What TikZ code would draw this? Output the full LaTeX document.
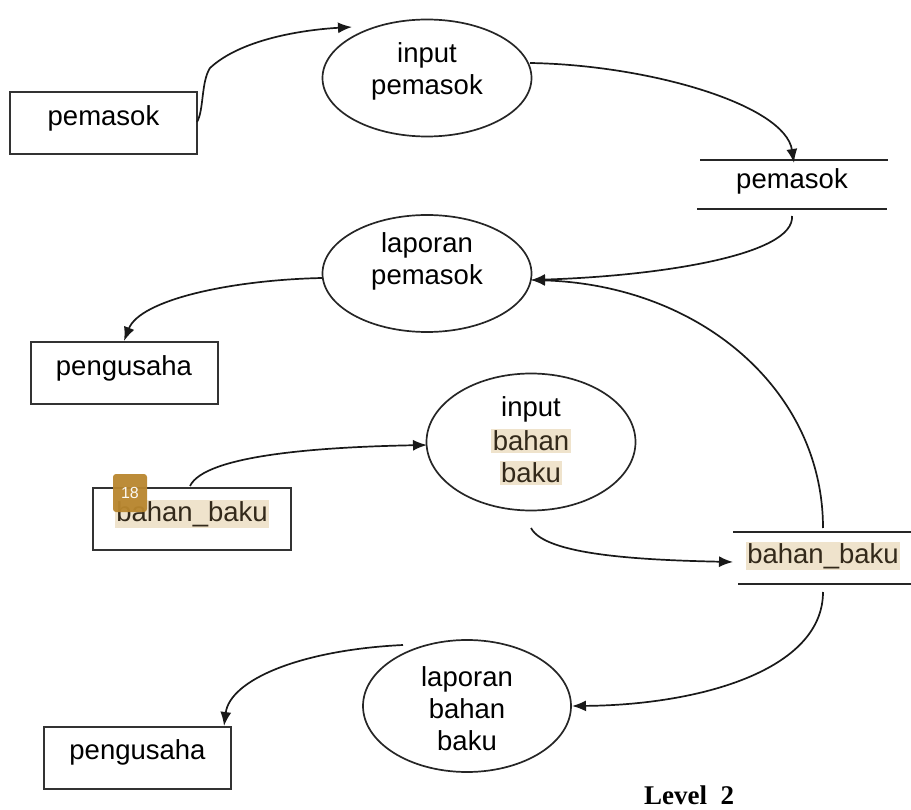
\documentclass[tikz,border=0pt]{standalone}
\usepackage{fontspec}
\setmainfont{Liberation Sans}
\newfontfamily\serifbold{Liberation Serif}
\usetikzlibrary{shapes.geometric,arrows.meta}
\definecolor{hl}{HTML}{EFE3CC}
\definecolor{hltext}{HTML}{33291A}
\definecolor{badge}{HTML}{B8862E}
\begin{document}
\begin{tikzpicture}[x=1pt,y=-1pt,
  font=\fontsize{27.5}{32}\selectfont,
  every node/.style={align=center},
  entity/.style={draw=black!80,line width=2pt,minimum width=187pt,minimum height=62pt,inner sep=0pt},
  proc/.style={draw=black!85,line width=1.7pt,ellipse,minimum width=209pt,minimum height=117pt,inner sep=0pt},
  storeline/.style={draw=black!85,line width=1.7pt},
  flow/.style={draw=black!90,line width=1.7pt,-{Latex[length=14pt,width=11pt]}},
  hlbox/.style={fill=hl,text=hltext,inner sep=1.5pt}]
\useasboundingbox (0,0) rectangle (911,810);
% external entities
\node[entity] (pem) at (103.5,123) {};
\node (pemt) at (103.5,118) {pemasok};
\node[entity] (peng1) at (124,373.5) {};
\node (peng1t) at (124,368) {pengusaha};
\node[entity,minimum width=198pt] (bb) at (192,518.5) {};
\node[hlbox] (bbt) at (192,514) {bahan\_baku};
\node[entity] (peng2) at (137.5,757.5) {};
\node (peng2t) at (137.5,752) {pengusaha};
% processes
\node[proc] (p1) at (427,78) {};
\node (p1t) at (427,71) {input\\pemasok};
\node[proc] (p2) at (427,273.5) {};
\node (p2t) at (427,261) {laporan\\pemasok};
\node[proc,minimum width=209pt,minimum height=137pt] (p3) at (531,442) {};
\node (p3a) at (531,409) {input};
\node[hlbox] (p3b) at (531,441) {bahan};
\node[hlbox] (p3c) at (531,473) {baku};
\node[proc,minimum width=208pt,minimum height=132pt] (p4) at (467,706) {};
\node (p4t) at (467,709) {laporan\\bahan\\baku};
% data stores
\coordinate (s1a) at (700,160); \coordinate (s1b) at (888,160);
\coordinate (s1c) at (697,209); \coordinate (s1d) at (887,209);
\draw[storeline] (s1a) -- (s1b);
\draw[storeline] (s1c) -- (s1d);
\node (s1) at (792,181) {pemasok};
\coordinate (s2a) at (733,532); \coordinate (s2b) at (911,532);
\coordinate (s2c) at (738,584); \coordinate (s2d) at (911,584);
\draw[storeline] (s2a) -- (s2b);
\draw[storeline] (s2c) -- (s2d);
\node[hlbox] (s2) at (823,556) {bahan\_baku};
% badge
\node[fill=badge,text=white,rounded corners=3pt,minimum width=34pt,minimum height=38pt,inner sep=0pt,font=\fontsize{16}{18}\selectfont,opacity=0.95] (badge18) at (130,493) {\raisebox{-7pt}{18}};
% connection points
\coordinate (c1s) at (197,122);
\coordinate (c1e) at (352,27);
\coordinate (c2s) at (530,63);
\coordinate (c2e) at (794,163);
\coordinate (c3s) at (792,216);
\coordinate (c3e) at (531,280);
\coordinate (c4s) at (322,278);
\coordinate (c4e) at (124,341);
\coordinate (c5s) at (190,486);
\coordinate (c5e) at (427,445);
\coordinate (c6s) at (531,528);
\coordinate (c6e) at (733,562);
\coordinate (c7s) at (823,528);
\coordinate (c8s) at (823,592);
\coordinate (c8e) at (572,706);
\coordinate (c9s) at (403,645);
\coordinate (c9e) at (224,726);
% flows
\draw[flow] (c1s) .. controls (204,110) and (201,82) .. (210,68) .. controls (240,40) and (300,30) .. (c1e);
\draw[flow] (c2s) .. controls (650,65) and (785,105) .. (c2e);
\draw[flow] (c3s) .. controls (795,255) and (660,276) .. (c3e);
\draw[flow] (c4s) .. controls (230,280) and (140,300) .. (c4e);
\draw[flow] (c5s) .. controls (205,455) and (320,447) .. (c5e);
\draw[flow] (c6s) .. controls (545,555) and (640,560) .. (c6e);
\draw[flow] (c7s) .. controls (823,390) and (700,285) .. (c3e);
\draw[flow] (c8s) .. controls (823,670) and (700,705) .. (c8e);
\draw[flow] (c9s) .. controls (300,650) and (230,680) .. (c9e);
% caption
\node[font=\serifbold\bfseries\fontsize{27}{30}\selectfont] (lvl) at (689,795) {Level\ \ 2};
\end{tikzpicture}
\end{document}
